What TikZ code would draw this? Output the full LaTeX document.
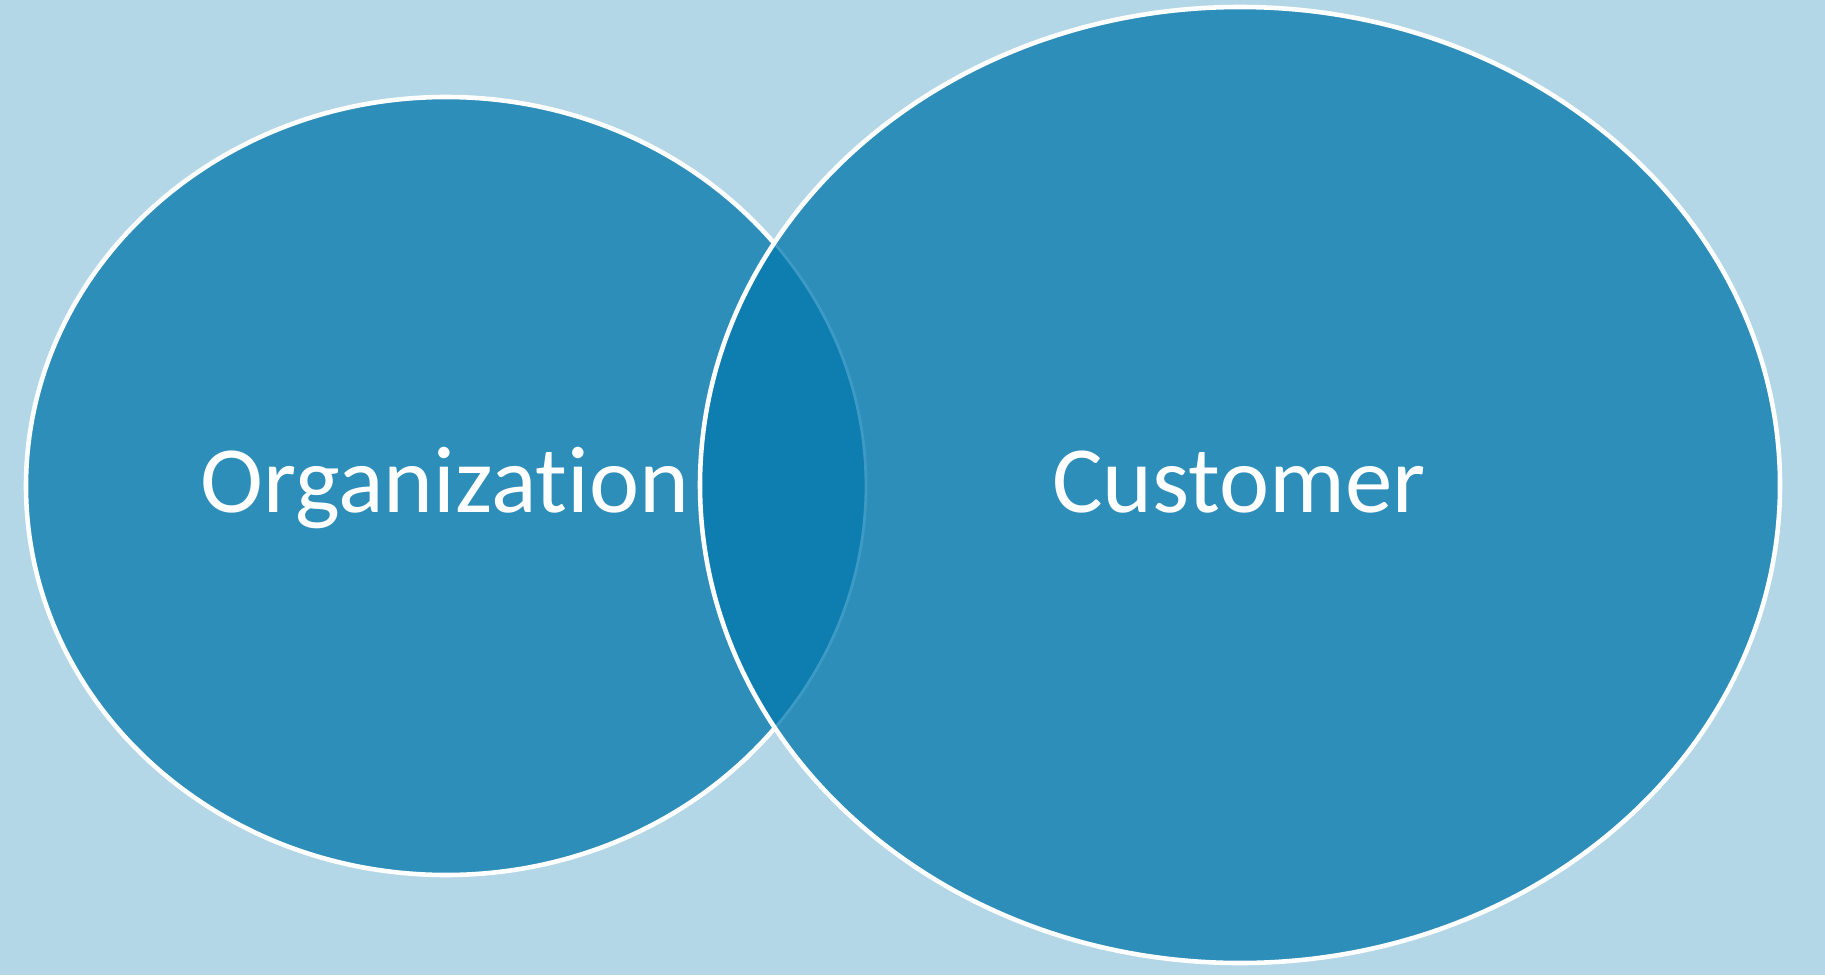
\documentclass[tikz,border=0pt]{standalone}
\usepackage{fontspec}
\setmainfont[Ligatures=NoCommon,RawFeature=-liga]{Carlito}

\definecolor{bgblue}{HTML}{B3D7E6}
\definecolor{setblue}{HTML}{2E8EBA}
\definecolor{overlapblue}{HTML}{0E7DB0}
\definecolor{edgeblue}{HTML}{3C9AC4}

\begin{document}
\begin{tikzpicture}[scale=1]

% Background
  \fill[bgblue] (0,0) rectangle (18.25,9.75);
  \useasboundingbox (0,0) rectangle (18.25,9.75);

  \coordinate (org) at (4.46,4.89);
  \coordinate (cust) at (12.40,4.90);

% Sets
  \fill[setblue] (org) ellipse (4.20cm and 3.89cm);
  \draw[line width=1.3pt, white] (org) ellipse (4.20cm and 3.89cm);
  \fill[setblue] (cust) ellipse (5.40cm and 4.78cm);

  \begin{scope}
    \clip (org) ellipse (4.20cm and 3.89cm);
    \fill[overlapblue] (cust) ellipse (5.40cm and 4.78cm);
  \end{scope}
  \begin{scope}
    \clip (cust) ellipse (5.40cm and 4.78cm);
    \draw[line width=0.8pt, edgeblue] (org) ellipse (4.20cm and 3.89cm);
  \end{scope}

  \draw[line width=1.3pt, white] (cust) ellipse (5.40cm and 4.78cm);

  \node[anchor=base, white, font=\fontsize{27}{32}\selectfont] (orglabel) at (4.45,4.63) {Organization};
  \node[anchor=base, white, font=\fontsize{27}{32}\selectfont] (custlabel) at (12.39,4.63) {Customer};

\end{tikzpicture}
\end{document}
